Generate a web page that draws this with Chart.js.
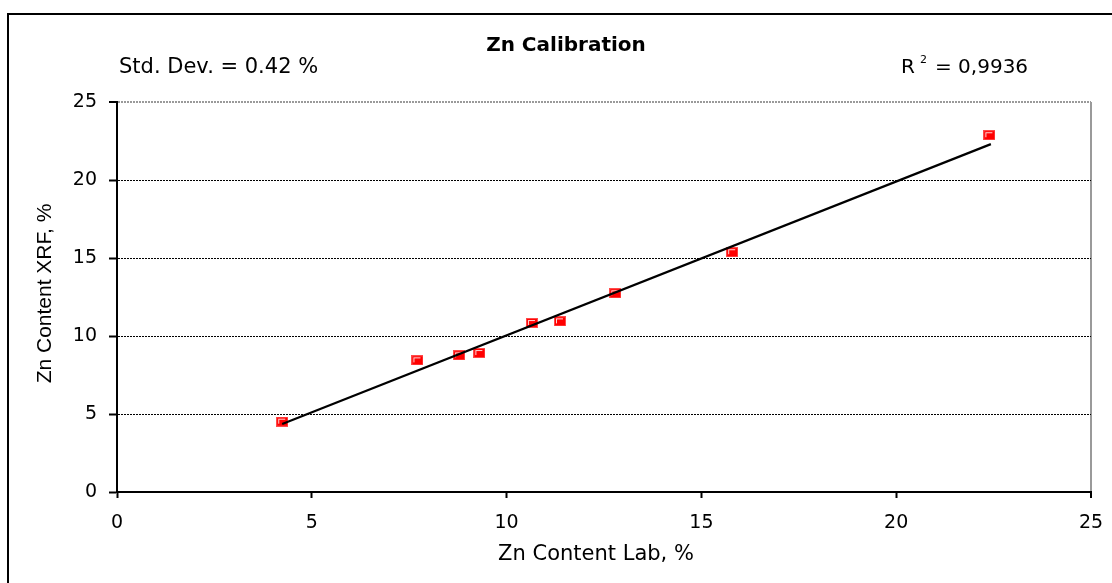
<!DOCTYPE html>
<html>
<head>
<meta charset="utf-8">
<script src="https://cdn.jsdelivr.net/npm/chart.js@4.4.1/dist/chart.umd.min.js"></script>
<style>
html,body{margin:0;padding:0;background:#fff;overflow:hidden}
canvas{display:block}
</style>
</head>
<body>
<canvas id="c" width="1112" height="583"></canvas>
<script>
// ---- data ----
const labX  = [4.24, 7.71, 8.78, 9.30, 10.65, 11.37, 12.79, 15.79, 22.39];
const xrfY  = [4.51, 8.44, 8.76, 8.91, 10.83, 10.94, 12.74, 15.37, 22.87];
const trendX = [4.24, 22.43];
const trendY = [4.36, 22.30];
const xTicks = [0, 5, 10, 15, 20, 25];
const yTicks = [0, 5, 10, 15, 20, 25];
const titleText = 'Zn Calibration';
const stdDevText = 'Std. Dev. = 0.42 %';
const r2Value = '= 0,9936';
const xTitle = 'Zn Content Lab, %';
const yTitle = 'Zn Content XRF, %';

const SANS = '"DejaVu Sans", sans-serif';
const ARIAL = '"Liberation Sans", Arial, sans-serif';

function makeMarker() {
  const c = document.createElement('canvas');
  c.width = 12; c.height = 10;
  const g = c.getContext('2d');
  g.fillStyle = '#ff4a4a'; g.fillRect(0, 0, 12, 10);
  g.fillStyle = '#ff0000'; g.fillRect(1, 1, 10, 8);
  g.fillStyle = '#ffd6d6'; g.fillRect(2, 2, 7, 1); g.fillRect(2, 2, 1, 5);
  return c;
}

const decor = {
  id: 'decor',
  beforeDraw(chart) {
    const ctx = chart.ctx;
    ctx.save();
    ctx.fillStyle = '#fff';
    ctx.fillRect(0, 0, chart.width, chart.height);
    ctx.strokeStyle = '#000';
    ctx.lineWidth = 2;
    ctx.beginPath();
    ctx.moveTo(8, chart.height + 2);
    ctx.lineTo(8, 14);
    ctx.lineTo(chart.width + 2, 14);
    ctx.stroke();
    ctx.restore();
  },
  afterDraw(chart) {
    const ctx = chart.ctx;
    ctx.save();
    ctx.fillStyle = '#000';
    ctx.textBaseline = 'alphabetic';
    // title
    ctx.font = 'bold 20px ' + SANS;
    ctx.textAlign = 'center';
    ctx.fillText(titleText, 566, 51);
    // std dev
    ctx.font = '21px ' + SANS;
    ctx.textAlign = 'left';
    ctx.fillText(stdDevText, 119, 73);
    // R^2
    ctx.font = '20px ' + SANS;
    ctx.fillText('R', 901, 72.5);
    ctx.font = '11px ' + SANS;
    ctx.fillText('2', 920, 62.5);
    ctx.font = '20px ' + SANS;
    ctx.fillText(r2Value, 935, 72.5);
    // x title
    ctx.font = '21px ' + SANS;
    ctx.textAlign = 'center';
    ctx.fillText(xTitle, 596, 559.5);
    // y title
    ctx.font = '21px ' + ARIAL;
    ctx.translate(50.5, 293.5);
    ctx.rotate(-Math.PI / 2);
    ctx.fillText(yTitle, 0, 0);
    ctx.restore();
  }
};

const gridColorY = c => c.tick && c.tick.value === 25 ? '#9a9a9a' : (c.tick && c.tick.value === 0 ? 'rgba(0,0,0,0)' : '#000');
const gridColorX = c => c.tick && c.tick.value === 25 ? '#9a9a9a' : 'rgba(0,0,0,0)';
const gridWidth = c => c.tick && c.tick.value === 25 ? 2 : 1;

new Chart(document.getElementById('c'), {
  type: 'scatter',
  data: {
    datasets: [
      {
        label: 'Trend',
        data: trendX.map((x, i) => ({ x, y: trendY[i] })),
        showLine: true,
        borderColor: '#000',
        borderWidth: 2.2,
        pointRadius: 0,
        fill: false
      },
      {
        label: 'Zn',
        data: labX.map((x, i) => ({ x, y: xrfY[i] })),
        pointStyle: makeMarker(),
        pointRadius: 6,
        showLine: false
      }
    ]
  },
  options: {
    responsive: false,
    animation: false,
    devicePixelRatio: 1,
    layout: { padding: { top: 102, right: 21, left: 0, bottom: 0 } },
    plugins: { legend: { display: false }, tooltip: { enabled: false }, title: { display: false } },
    scales: {
      x: {
        type: 'linear',
        min: 0, max: 25,
        afterBuildTicks: s => { s.ticks = xTicks.map(v => ({ value: v })); },
        afterFit: s => { s.height = 91; s.paddingLeft = 0; s.paddingRight = 0; },
        ticks: { color: '#000', font: { family: SANS, size: 19 }, padding: 14, maxRotation: 0, callback: v => String(v) },
        grid: { drawOnChartArea: true, color: gridColorX, lineWidth: gridWidth, tickColor: '#000', tickWidth: 2, tickLength: 6 },
        border: { display: true, color: '#000', width: 2 }
      },
      y: {
        type: 'linear',
        min: 0, max: 25,
        afterBuildTicks: s => { s.ticks = yTicks.map(v => ({ value: v })); },
        afterFit: s => { s.width = 117; s.paddingTop = 0; s.paddingBottom = 0; },
        ticks: { color: '#000', font: { family: SANS, size: 19 }, padding: 12, callback: v => String(v) },
        grid: { drawOnChartArea: true, color: gridColorY, lineWidth: gridWidth, tickColor: '#000', tickWidth: 2, tickLength: 8, tickBorderDash: [] },
        border: { display: true, color: '#000', width: 2, dash: [2, 1] }
      }
    }
  },
  plugins: [decor]
});
</script>
</body>
</html>
